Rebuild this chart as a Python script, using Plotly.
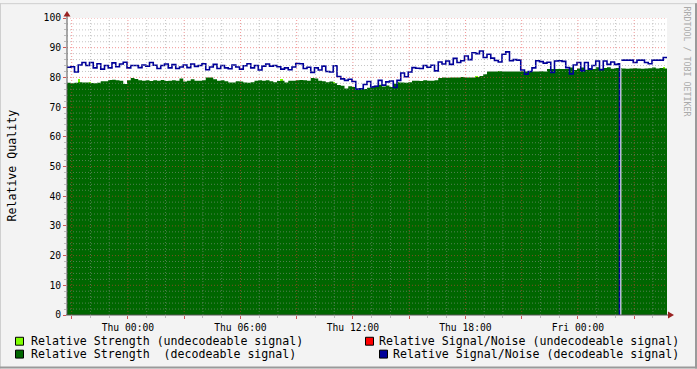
import plotly.graph_objects as go
from datetime import datetime, timedelta

# ---------------- data ----------------
START = "2009-01-14 20:45"
STEP_MINUTES = 12

strength_decodeable = [
    78.2, 78.0, 78.2, 78.4, 78.3, 78.3, 78.1, 78.0, 78.2, 78.7,
    78.7, 79.1, 79.2, 79.0, 78.9, 77.8, 79.0, 79.8, 79.5, 79.0,
    78.9, 79.0, 78.8, 79.0, 78.9, 79.1, 78.8, 78.9, 79.0, 78.9,
    79.6, 78.6, 78.9, 79.4, 78.9, 78.9, 79.0, 80.0, 80.0, 79.4,
    78.9, 79.0, 78.7, 78.3, 78.3, 78.7, 78.6, 78.3, 78.2, 78.4,
    78.9, 79.0, 78.9, 79.0, 78.7, 78.4, 78.8, 78.9, 78.3, 78.9,
    78.9, 79.0, 79.1, 79.0, 78.9, 79.8, 79.6, 78.9, 78.7, 78.4,
    78.6, 78.0, 77.4, 77.2, 76.3, 77.0, 76.8, 76.3, 76.4, 76.1,
    76.5, 76.7, 77.2, 77.5, 76.9, 77.3, 76.8, 77.9, 78.3, 78.3,
    78.2, 78.4, 78.9, 78.9, 78.8, 79.0, 78.9, 78.9, 79.0, 79.8,
    80.0, 79.9, 80.0, 80.0, 80.0, 80.1, 80.0, 80.0, 80.0, 80.1,
    80.5, 81.1, 82.0, 82.0, 82.0, 82.1, 82.0, 82.0, 82.0, 82.0,
    82.0, 82.1, 82.0, 82.0, 82.0, 82.0, 82.1, 82.0, 82.8, 82.8,
    82.8, 82.8, 82.8, 82.8, 83.3, 82.5, 83.0, 83.3, 82.6, 83.2,
    82.8, 83.4, 82.9, 83.2, 83.4, 82.9, 83.2, 83.2, 83.0, 82.9,
    83.0, 83.1, 83.0, 82.9, 83.0, 83.1, 83.3, 83.0, 83.2, 83.0,
]

sn_decodeable = [
    83.4, 83.6, 81.8, 84.2, 85.0, 84.0, 85.0, 83.2, 84.6, 82.8,
    84.0, 83.2, 84.9, 83.6, 84.5, 85.1, 83.2, 84.0, 84.0, 83.3,
    84.2, 83.8, 85.0, 84.1, 83.0, 84.0, 84.5, 83.2, 84.3, 83.0,
    83.5, 84.2, 83.3, 84.5, 83.7, 84.0, 84.6, 82.6, 83.5, 84.4,
    83.0, 84.0, 83.2, 82.9, 84.2, 83.5, 82.8, 83.9, 84.6, 83.2,
    84.0, 82.5, 83.8, 84.5, 83.8, 84.0, 83.6, 82.8, 83.2, 82.6,
    83.5, 84.7, 84.6, 83.0, 83.4, 81.7, 83.2, 82.5, 83.8, 82.0,
    81.8, 83.9, 80.3, 79.5, 79.0, 79.4, 78.6, 76.0, 76.2, 77.6,
    78.6, 76.8, 77.0, 79.0, 77.4, 78.5, 78.8, 76.6, 79.0, 81.5,
    80.2, 81.8, 83.3, 83.1, 83.0, 84.0, 83.4, 84.1, 82.2, 85.2,
    84.5, 85.5, 84.4, 86.4, 85.0, 85.6, 87.2, 86.0, 88.3, 88.0,
    88.9, 86.7, 87.8, 86.5, 85.7, 85.2, 87.8, 88.6, 85.6, 86.0,
    85.8, 82.5, 81.1, 82.0, 83.2, 85.6, 85.3, 84.8, 85.1, 81.7,
    85.5, 85.6, 85.4, 83.3, 81.2, 84.2, 85.0, 82.2, 85.0, 82.8,
    84.0, 85.5, 82.6, 85.5, 84.4, 85.2, 84.4, 84.6, 85.8, 85.8,
    85.8, 85.0, 85.8, 85.8, 85.0, 84.6, 85.8, 85.8, 85.8, 86.7,
]

# short outage (no data) during which the signal dropped out
GAP_START = "2009-01-16 02:13"
GAP_MINUTES = 6
GAP_RESUME_SN = 85.8

# undecodeable strength: only a few samples show above the decodeable area
undec_strength_index = [3, 6, 57, 71, 88, 109, 115, 159]
undec_strength_value = [79.5, 78.6, 79.4, 78.6, 78.6, 80.4, 82.3, 83.6]

x_tick_times = ["2009-01-15 00:00", "2009-01-15 06:00", "2009-01-15 12:00",
                "2009-01-15 18:00", "2009-01-16 00:00"]
x_tick_labels = ["Thu 00:00", "Thu 06:00", "Thu 12:00", "Thu 18:00", "Fri 00:00"]
y_tick_values = [0, 10, 20, 30, 40, 50, 60, 70, 80, 90, 100]

legend_labels = [
    "Relative Strength (undecodeable signal)",
    "Relative Strength\u00a0\u00a0(decodeable signal)",
    "Relative Signal/Noise (undecodeable signal)",
    "Relative Signal/Noise (decodeable signal)",
]

# ---------------- colours / fonts ----------------
C_LIME = "#7FFF00"
C_GREEN = "#006600"
C_RED = "#FF0000"
C_BLUE = "#000099"
MONO = "DejaVu Sans Mono"

# ---------------- geometry ----------------
W, H = 697, 369
L, R, T, B = 67, 30, 15, 54
PW, PH = W - L - R, H - T - B


def px(x):
    return (x - L) / PW


def py(y):
    return (H - B - y) / PH


t0 = datetime.strptime(START, "%Y-%m-%d %H:%M")
step = timedelta(minutes=STEP_MINUTES)
n = len(strength_decodeable)
times = [t0 + i * step for i in range(n + 1)]
t_end = times[-1]
gap_s = datetime.strptime(GAP_START, "%Y-%m-%d %H:%M")
gap_e = gap_s + timedelta(minutes=GAP_MINUTES)


def step_series(vals, resume, line_break):
    xs, ys = [], []
    for i, v in enumerate(vals):
        xs.append(times[i]); ys.append(v)
        if times[i] < gap_s < times[i + 1]:
            xs.append(gap_s); ys.append(0.0)
            if line_break:
                xs.append(gap_s + timedelta(seconds=30)); ys.append(None)
            xs.append(gap_e); ys.append(resume)
    xs.append(t_end); ys.append(vals[-1])
    return xs, ys


fig = go.Figure()

# undecodeable strength spikes (drawn behind)
fig.add_trace(go.Bar(
    x=[t0 + i * step for i in undec_strength_index],
    y=undec_strength_value,
    width=[6 * 60 * 1000] * len(undec_strength_index),
    offset=0,
    marker=dict(color=C_LIME, line=dict(width=0)),
    showlegend=False, hoverinfo="skip",
))

# decodeable strength area
gx, gy = step_series(strength_decodeable, strength_decodeable[147], False)
fig.add_trace(go.Scatter(
    x=gx, y=gy,
    mode="lines", line=dict(width=0, color=C_GREEN, shape="hv"),
    fill="tozeroy", fillcolor=C_GREEN, showlegend=False,
))

# decodeable S/N line
bx, by = step_series(sn_decodeable, GAP_RESUME_SN, True)
fig.add_trace(go.Scatter(
    x=bx, y=by, connectgaps=False,
    mode="lines", line=dict(width=1.6, color=C_BLUE, shape="hv"),
    showlegend=False,
))

shapes = []
DASH = "1px,2px"
MINOR = "rgba(150,150,150,0.55)"
MAJOR = "rgba(230,60,60,0.55)"

# vertical grid (hourly, major every 3h)
h = t0.replace(minute=0) + timedelta(hours=1)
major_x = []
minor_x = []
while h < t_end:
    major = (h.hour % 3 == 0)
    (major_x if major else minor_x).append(h)
    shapes.append(dict(type="line", xref="x", yref="paper", x0=h, x1=h,
                       y0=0, y1=1, layer="above",
                       line=dict(color=MAJOR if major else MINOR, width=1, dash=DASH)))
    h += timedelta(hours=1)

# horizontal grid
for v in range(2, 101, 2):
    major = (v % 10 == 0)
    shapes.append(dict(type="line", xref="paper", yref="y", x0=0, x1=1,
                       y0=v, y1=v, layer="above",
                       line=dict(color=MAJOR if major else MINOR, width=1, dash=DASH)))

# axis lines
shapes.append(dict(type="line", xref="paper", yref="paper", x0=px(67), x1=px(67),
                   y0=py(315), y1=py(11), layer="above", line=dict(color="#555555", width=1)))
shapes.append(dict(type="line", xref="paper", yref="paper", x0=px(66), x1=px(670),
                   y0=py(315), y1=py(315), layer="above", line=dict(color="#555555", width=1)))


def tri(pts):
    return "M " + " L ".join(f"{px(a)},{py(b)}" for a, b in pts) + " Z"


# arrow heads
shapes.append(dict(type="path", xref="paper", yref="paper",
                   path=tri([(63.5, 13.5), (70.5, 13.5), (67, 8)]),
                   fillcolor="#992222", line=dict(width=0), layer="above"))
shapes.append(dict(type="path", xref="paper", yref="paper",
                   path=tri([(668, 311.5), (668, 318.5), (674, 315)]),
                   fillcolor="#992222", line=dict(width=0), layer="above"))

# legend swatches
for (x0, y0), col in zip([(15.5, 337.5), (15.5, 350.5), (365.5, 337.5), (379.5, 350.5)],
                         [C_LIME, C_GREEN, C_RED, C_BLUE]):
    shapes.append(dict(type="rect", xref="paper", yref="paper",
                       x0=px(x0), x1=px(x0 + 8), y0=py(y0), y1=py(y0 + 8),
                       fillcolor=col, line=dict(color="#000000", width=1), layer="above"))

# outer frame
shapes.append(dict(type="line", xref="paper", yref="paper", x0=px(0), x1=px(W),
                   y0=py(0.5), y1=py(0.5), line=dict(color="#CFCFCF", width=1)))
shapes.append(dict(type="line", xref="paper", yref="paper", x0=px(0.5), x1=px(0.5),
                   y0=py(0), y1=py(H), line=dict(color="#CFCFCF", width=1)))
shapes.append(dict(type="line", xref="paper", yref="paper", x0=px(W - 1), x1=px(W - 1),
                   y0=py(0), y1=py(H), line=dict(color="#9A9A9A", width=2)))
shapes.append(dict(type="line", xref="paper", yref="paper", x0=px(0), x1=px(W),
                   y0=py(H - 1), y1=py(H - 1), line=dict(color="#9A9A9A", width=2)))

annotations = []
for (x, y), txt, anchor in zip([(29, 341), (29, 354.5), (681, 341), (681, 354.5)],
                               legend_labels, ["left", "left", "right", "right"]):
    annotations.append(dict(xref="paper", yref="paper", x=px(x), y=py(y), text=txt,
                            showarrow=False, xanchor=anchor, yanchor="middle",
                            font=dict(family=MONO, size=11.6, color="#000000")))

annotations.append(dict(xref="paper", yref="paper", x=px(12), y=py(164),
                        text="Relative Quality", textangle=-90, showarrow=False,
                        xanchor="center", yanchor="middle",
                        font=dict(family=MONO, size=11.6, color="#000000")))
annotations.append(dict(xref="paper", yref="paper", x=px(687), y=py(59),
                        text="RRDTOOL / TOBI OETIKER", textangle=90, showarrow=False,
                        xanchor="center", yanchor="middle",
                        font=dict(family=MONO, size=8.3, color="#AAAAAA")))

# x ticks: every 3 hours, labelled every 6 hours
tick_map = {datetime.strptime(t, "%Y-%m-%d %H:%M"): lab
            for t, lab in zip(x_tick_times, x_tick_labels)}
x_tickvals = major_x
x_ticktext = [tick_map.get(t, "") for t in major_x]

fig.update_layout(
    width=W, height=H,
    margin=dict(l=L, r=R, t=T, b=B, pad=0),
    paper_bgcolor="#F3F3F3", plot_bgcolor="#FFFFFF",
    showlegend=False, bargap=0,
    shapes=shapes, annotations=annotations,
    xaxis=dict(type="date", range=[t0, t_end], showgrid=False, zeroline=False,
               showline=False, tickmode="array", tickvals=x_tickvals, ticktext=x_ticktext,
               ticks="outside", ticklen=3, tickcolor="#CC5555", tickwidth=1,
               tickfont=dict(family=MONO, size=9.7, color="#000000"),
               minor=dict(tickmode="array", tickvals=minor_x, ticks="outside",
                          ticklen=2, tickcolor="#BBBBBB", showgrid=False)),
    yaxis=dict(range=[0, 100], showgrid=False, zeroline=False, showline=False,
               tickmode="array", tickvals=y_tick_values,
               ticktext=[str(v) for v in y_tick_values],
               ticks="outside", ticklen=3, tickcolor="#CC5555", tickwidth=1,
               tickfont=dict(family=MONO, size=9.7, color="#000000"),
               minor=dict(tickmode="array", tickvals=list(range(2, 100, 2)),
                          ticks="outside", ticklen=2, tickcolor="#BBBBBB",
                          showgrid=False)),
)

fig.write_html("out.html",
               config={"displayModeBar": False},
               post_script="document.body.style.margin='0';"
                           "document.body.style.overflow='hidden';")
